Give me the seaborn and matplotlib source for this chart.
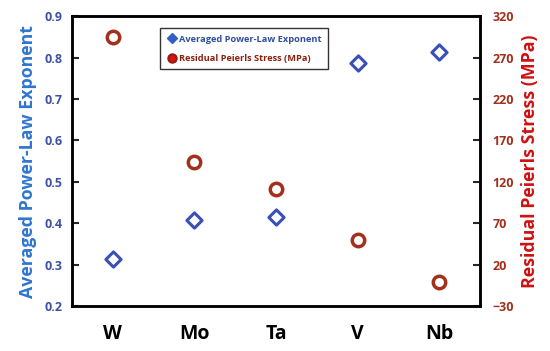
import pandas as pd
import seaborn as sns
import matplotlib.pyplot as plt
from matplotlib.lines import Line2D

metals = ['W', 'Mo', 'Ta', 'V', 'Nb']
exponent = [0.313, 0.408, 0.416, 0.787, 0.813]
stress = [295, 144, 111, 50, -1]

blueMark = '#3A4FB8'
redMark = '#A3301C'

sns.set_style('white')
plt.rcParams['font.family'] = ['Open Sans', 'DejaVu Sans']
plt.rcParams['font.weight'] = 'bold'

df = pd.DataFrame({'metal': metals, 'exponent': exponent, 'stress': stress})
df['pos'] = range(len(metals))

fig = plt.figure(figsize=(5.5, 3.51), dpi=100)
ax = fig.add_axes([0.131, 0.128, 0.742, 0.826])
ax2 = ax.twinx()

sns.scatterplot(data=df, x='pos', y='exponent', ax=ax, marker='D', s=60,
                facecolor='white', edgecolor=blueMark, linewidth=2.2, zorder=3)
sns.scatterplot(data=df, x='pos', y='stress', ax=ax2, marker='o', s=80,
                facecolor='white', edgecolor=redMark, linewidth=2.5, zorder=3)

ax.set_xlim(-0.5, 4.5)
ax.set_ylim(0.2, 0.9)
ax2.set_ylim(-30, 320)
ax.set_yticks([0.2, 0.3, 0.4, 0.5, 0.6, 0.7, 0.8, 0.9])
ax2.set_yticks(range(-30, 321, 50))
ax.set_xticks(df['pos'])
ax.set_xticklabels(metals, fontsize=14, fontweight='bold', color='black')

for side in ['left', 'right', 'top', 'bottom']:
    ax.spines[side].set_linewidth(1.8)
    ax.spines[side].set_color('black')
    ax2.spines[side].set_linewidth(1.8)
    ax2.spines[side].set_color('black')

ax.tick_params(axis='x', direction='in', length=5, width=1.5, pad=13)
ax.tick_params(axis='y', direction='in', length=5, width=1.5, labelsize=9,
               labelcolor='#3F51A3', pad=7)
ax2.tick_params(axis='y', direction='in', length=5, width=1.5, labelsize=9,
                labelcolor='#A3301C', pad=9)
ax.yaxis.set_major_formatter(plt.FuncFormatter(lambda v, p: f'{v:.1f}'))
for lab in ax.get_yticklabels() + ax2.get_yticklabels():
    lab.set_fontweight('bold')

ax.set_xlabel('')
ax.set_ylabel('Averaged Power-Law Exponent', fontsize=12.8, fontweight='bold',
              color='#2F75D0', labelpad=5)
ax2.set_ylabel('Residual Peierls Stress (MPa)', fontsize=12.8, fontweight='bold',
               color='#D01010', labelpad=5)

handles = [
    Line2D([], [], marker='D', linestyle='', markersize=5, color='#3060C8'),
    Line2D([], [], marker='o', linestyle='', markersize=6,
           markerfacecolor='#E01010', markeredgecolor='#8B2010', markeredgewidth=1.5),
]
leg = ax2.legend(handles, ['Averaged Power-Law Exponent', 'Residual Peierls Stress (MPa)'],
                 loc='upper left', bbox_to_anchor=(0.205, 0.975), frameon=True,
                 fancybox=False, edgecolor='black', handletextpad=0.3,
                 borderpad=0.7, labelspacing=1.1, handlelength=1.0,
                 prop={'weight': 'bold', 'size': 6.7})
leg.get_frame().set_linewidth(1.0)
leg.get_texts()[0].set_color('#2F4FA0')
leg.get_texts()[1].set_color('#8B2010')

fig.savefig('out.png', dpi=100)
